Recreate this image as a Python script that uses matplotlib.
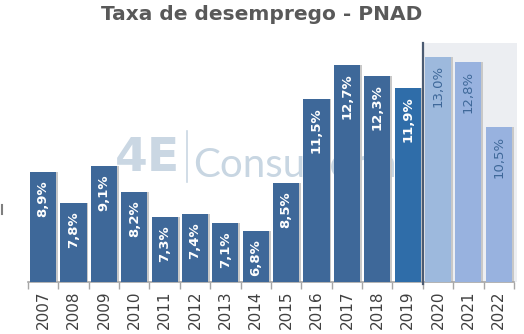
import matplotlib.pyplot as plt
from matplotlib.lines import Line2D

anos = ["2007", "2008", "2009", "2010", "2011", "2012", "2013", "2014",
        "2015", "2016", "2017", "2018", "2019", "2020", "2021", "2022"]
taxa = [8.9, 7.8, 9.1, 8.2, 7.3, 7.4, 7.1, 6.8, 8.5, 11.5, 12.7, 12.3, 11.9, 13.0, 12.8, 10.5]
projecao = [False] * 13 + [True] * 3

cor_hist = "#3E6899"
cor_2019 = "#2F6DA9"
cores_proj = ["#9DB9DD", "#98B2DF", "#98B2DF"]

fig = plt.figure(figsize=(5.24, 3.34), dpi=100)
ax = fig.add_axes([0.0534, 0.1557, 0.9275, 0.7153])

cores = []
k = 0
for i, p in enumerate(projecao):
    if p:
        cores.append(cores_proj[k])
        k += 1
    elif anos[i] == "2019":
        cores.append(cor_2019)
    else:
        cores.append(cor_hist)

x = list(range(len(anos)))

# area sombreada das projecoes
ax.axvspan(12.5, 15.6, color="#ECEEF2", zorder=0, lw=0, clip_on=False)

# marca d'agua
ax.text(3.45, 9.4, "4E", fontsize=34, fontweight="heavy", color="#CAD7E3",
        ha="center", va="center", zorder=1)
ax.plot([4.73, 4.73], [8.55, 10.35], color="#CAD7E3", lw=1.2, zorder=1)
ax.text(4.95, 9.15, "Consultoria", fontsize=29, color="#C8D6E2", ha="left",
        va="center", zorder=1, family="Lato")

# sombra leve das barras
ax.bar([v + 0.06 for v in x], [t - 5 for t in taxa], bottom=5, width=0.86,
       color="#C8C8C8", zorder=2)
ax.bar(x, [t - 5 for t in taxa], bottom=5, width=0.86, color=cores, zorder=3)

for i, t in enumerate(taxa):
    rot = "{:.1f}%".format(t).replace(".", ",")
    if projecao[i]:
        ax.annotate(rot, (i, t), xytext=(0, -6), textcoords="offset points",
                    rotation=90, ha="center", va="top", fontsize=9.5,
                    color="#3E6899", zorder=4)
    else:
        ax.annotate(rot, (i, t), xytext=(0, -6), textcoords="offset points",
                    rotation=90, ha="center", va="top", fontsize=9.5,
                    color="white", fontweight="bold", zorder=4)

ax.axvline(12.5, ymin=-0.008, ymax=1, color="#4B5B72", lw=1.6, zorder=5,
           clip_on=False)

ax.set_xlim(-0.5, 15.5)
ax.set_ylim(5, 13.48)
ax.set_xticks(x)
ax.set_xticklabels(anos, rotation=90, fontsize=11, color="#404040")
ax.set_xticks([v - 0.5 for v in range(len(anos) + 1)], minor=True)
ax.tick_params(axis="x", which="major", length=0, pad=6)
ax.tick_params(axis="x", which="minor", length=5, color="#A6A6A6", width=1)
ax.set_yticks([])
for s in ["left", "right", "top"]:
    ax.spines[s].set_visible(False)
ax.spines["bottom"].set_color("#A6A6A6")
ax.spines["bottom"].set_linewidth(1.2)

fig.add_artist(Line2D([0.003, 0.003], [0.36, 0.385], color="#7F7F7F", lw=1.5))

fig.suptitle("Taxa de desemprego - PNAD", x=0.5, y=0.985, fontsize=14.5,
             fontweight="bold", color="#595959")

fig.savefig("out.png", dpi=100)
